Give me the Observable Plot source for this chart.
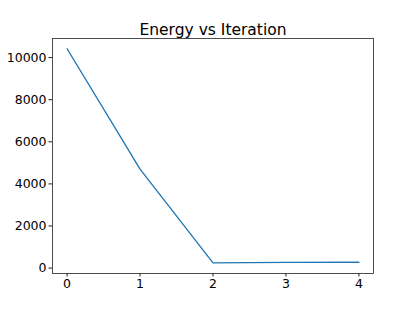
<!DOCTYPE html>
<html>
<head>
<meta charset="utf-8">
<script src="https://cdn.jsdelivr.net/npm/d3@7"></script>
<script src="https://cdn.jsdelivr.net/npm/@observablehq/plot@0.6"></script>
<style>
  html, body { margin: 0; padding: 0; background: #fff; }
  svg { display: block; }
</style>
</head>
<body>
<div id="chart"></div>
<script>
const iterations = [0, 1, 2, 3, 4];
const energy = [10420, 4700, 250, 268, 278];
const xTicks = [0, 1, 2, 3, 4];
const yTicks = [0, 2000, 4000, 6000, 8000, 10000];
const title = "Energy vs Iteration";

const data = iterations.map((it, i) => ({iteration: it, energy: energy[i]}));

const chart = Plot.plot({
  width: 415,
  height: 312,
  marginLeft: 52,
  marginRight: 42,
  marginTop: 38,
  marginBottom: 39,
  style: {fontFamily: "DejaVu Sans", fontSize: "12.5px", color: "#000", background: "#fff"},
  x: {domain: [-0.2, 4.2], ticks: xTicks, tickSize: 3.5, tickPadding: 2.5, tickFormat: d => String(d), label: null},
  y: {domain: [-257, 10907], ticks: yTicks, tickSize: 3.5, tickPadding: 2.5, tickFormat: d => String(d), label: null},
  marks: [
    Plot.line(data, {x: "iteration", y: "energy", stroke: "#1f77b4", strokeWidth: 1.35}),
    Plot.frame({stroke: "#222", strokeWidth: 0.8, strokeOpacity: 1}),
    Plot.axisX({ticks: xTicks, tickSize: 3.5, tickPadding: 2.5, tickFormat: d => String(d), label: null, stroke: "#222", strokeOpacity: 1, fill: "#000"}),
    Plot.axisY({ticks: yTicks, tickSize: 3.5, tickPadding: 2.5, tickFormat: d => String(d), label: null, stroke: "#222", strokeOpacity: 1, fill: "#000"}),
    Plot.text([title], {text: d => d, frameAnchor: "top", lineAnchor: "bottom", dy: -4, fontSize: 15.5, fill: "#000"})
  ]
});
document.getElementById("chart").appendChild(chart);
</script>
</body>
</html>
